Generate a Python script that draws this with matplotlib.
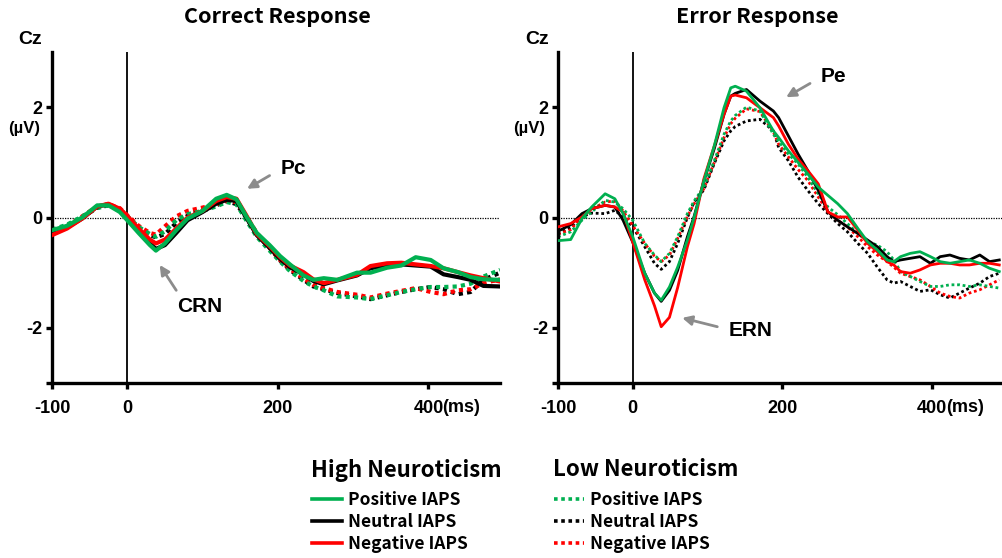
import matplotlib
matplotlib.use('Agg')
import matplotlib.pyplot as plt

# ---- data (uV) ----
t_correct = [-100, -80, -60, -40, -25, -10, 0, 15, 30, 38, 50, 65, 80, 100, 118, 132, 145, 158,
             172, 189, 203, 216, 234, 247, 261, 279, 305, 323, 345, 364, 383, 403, 420, 439,
             456, 473, 495]
c_high_pos = [-0.23, -0.15, 0.0, 0.22, 0.22, 0.1, -0.05, -0.28, -0.5, -0.6, -0.47, -0.23, -0.02,
              0.12, 0.34, 0.41, 0.33, 0.02, -0.28, -0.5, -0.7, -0.85, -1.05, -1.13, -1.1, -1.13,
              -1.0, -1.0, -0.91, -0.87, -0.72, -0.77, -0.92, -0.99, -1.08, -1.12, -1.13]
c_high_neu = [-0.27, -0.18, -0.02, 0.2, 0.24, 0.14, 0.0, -0.24, -0.47, -0.57, -0.5, -0.28, -0.05,
              0.1, 0.25, 0.32, 0.3, 0.0, -0.32, -0.55, -0.75, -0.9, -1.03, -1.15, -1.21, -1.14,
              -1.05, -0.92, -0.87, -0.85, -0.87, -0.89, -1.03, -1.08, -1.13, -1.24, -1.25]
c_high_neg = [-0.32, -0.2, -0.02, 0.2, 0.25, 0.16, 0.03, -0.2, -0.4, -0.47, -0.4, -0.2, 0.0,
              0.12, 0.3, 0.37, 0.34, 0.04, -0.3, -0.52, -0.72, -0.87, -0.99, -1.12, -1.19, -1.13,
              -1.04, -0.88, -0.83, -0.82, -0.85, -0.88, -0.92, -0.99, -1.05, -1.1, -1.16]
c_low_pos = [-0.22, -0.13, 0.02, 0.17, 0.22, 0.15, 0.02, -0.17, -0.3, -0.35, -0.25, -0.05, 0.06,
             0.12, 0.2, 0.28, 0.24, -0.05, -0.35, -0.6, -0.8, -0.97, -1.15, -1.25, -1.32, -1.43,
             -1.45, -1.48, -1.41, -1.35, -1.3, -1.26, -1.26, -1.25, -1.2, -1.07, -0.95]
c_low_neu = [-0.25, -0.15, 0.0, 0.18, 0.22, 0.15, 0.02, -0.2, -0.32, -0.36, -0.3, -0.1, 0.03,
             0.13, 0.22, 0.3, 0.24, 0.0, -0.3, -0.55, -0.78, -0.95, -1.13, -1.25, -1.3, -1.37,
             -1.43, -1.48, -1.41, -1.35, -1.3, -1.26, -1.3, -1.39, -1.35, -1.13, -1.0]
c_low_neg = [-0.28, -0.16, 0.02, 0.2, 0.24, 0.17, 0.04, -0.15, -0.28, -0.31, -0.16, 0.02, 0.12,
             0.18, 0.24, 0.3, 0.28, 0.02, -0.28, -0.55, -0.77, -0.93, -1.1, -1.22, -1.28, -1.35,
             -1.4, -1.45, -1.38, -1.33, -1.28, -1.35, -1.39, -1.32, -1.3, -1.19, -1.12]

t_error = [-100, -83, -68, -55, -37, -24, -13, 0, 16, 29, 38, 49, 60, 73, 82, 95, 109, 122, 131,
           137, 152, 170, 188, 195, 208, 221, 234, 248, 261, 274, 287, 301, 314, 327, 340, 349,
           358, 371, 384, 398, 411, 424, 437, 450, 464, 477, 490]
e_high_pos = [-0.42, -0.4, -0.02, 0.19, 0.43, 0.34, 0.07, -0.35, -1.01, -1.37, -1.5, -1.26, -0.9,
              -0.41, 0.0, 0.66, 1.3, 1.99, 2.35, 2.38, 2.29, 1.99, 1.57, 1.45, 1.21, 1.0, 0.79,
              0.55, 0.4, 0.25, 0.07, -0.2, -0.44, -0.59, -0.77, -0.8, -0.71, -0.65, -0.62, -0.71,
              -0.8, -0.83, -0.8, -0.77, -0.83, -0.92, -0.98]
e_high_neu = [-0.25, -0.13, 0.07, 0.16, 0.22, 0.19, -0.05, -0.45, -1.01, -1.37, -1.52, -1.32, -0.96,
              -0.35, 0.02, 0.66, 1.25, 1.87, 2.2, 2.25, 2.32, 2.11, 1.93, 1.81, 1.48, 1.15, 0.85,
              0.49, 0.1, -0.05, -0.17, -0.29, -0.41, -0.53, -0.71, -0.8, -0.77, -0.74, -0.71, -0.83,
              -0.71, -0.68, -0.74, -0.77, -0.68, -0.8, -0.77]
e_high_neg = [-0.17, -0.11, 0.01, 0.16, 0.22, 0.19, 0.1, -0.45, -1.13, -1.6, -1.98, -1.81, -1.27,
              -0.53, -0.11, 0.7, 1.3, 1.87, 2.2, 2.22, 2.17, 1.99, 1.81, 1.66, 1.33, 1.06, 0.85,
              0.61, 0.1, 0.01, 0.01, -0.23, -0.47, -0.62, -0.8, -0.86, -0.98, -1.01, -0.95, -0.86,
              -0.83, -0.83, -0.86, -0.86, -0.83, -0.83, -0.86]
e_low_pos = [-0.35, -0.26, -0.05, 0.1, 0.31, 0.28, 0.16, -0.05, -0.47, -0.68, -0.8, -0.65, -0.35,
             0.07, 0.3, 0.55, 1.03, 1.51, 1.75, 1.85, 2.0, 1.93, 1.51, 1.38, 1.15, 0.97, 0.73,
             0.43, 0.19, 0.05, -0.11, -0.29, -0.44, -0.5, -0.62, -0.77, -0.98, -1.07, -1.16, -1.25,
             -1.25, -1.22, -1.22, -1.25, -1.22, -1.25, -1.28]
e_low_neu = [-0.3, -0.18, 0.02, 0.08, 0.07, 0.13, 0.01, -0.17, -0.53, -0.83, -0.94, -0.8, -0.47,
             0.0, 0.28, 0.5, 0.98, 1.39, 1.57, 1.65, 1.75, 1.78, 1.57, 1.27, 1.03, 0.73, 0.49,
             0.25, 0.07, -0.11, -0.26, -0.47, -0.65, -0.9, -1.13, -1.19, -1.16, -1.25, -1.34, -1.31,
             -1.4, -1.46, -1.37, -1.28, -1.19, -1.07, -1.01]
e_low_neg = [-0.3, -0.22, 0.02, 0.15, 0.28, 0.3, 0.12, -0.15, -0.47, -0.7, -0.8, -0.68, -0.38,
             0.02, 0.25, 0.52, 1.0, 1.45, 1.7, 1.8, 1.97, 1.92, 1.55, 1.33, 1.1, 0.87, 0.67,
             0.37, 0.1, -0.05, -0.17, -0.35, -0.53, -0.68, -0.8, -0.9, -1.01, -1.07, -1.13, -1.25,
             -1.37, -1.43, -1.46, -1.37, -1.31, -1.22, -1.13]

x_ticks = [-100, 0, 200, 400]
x_ticklabels = ['-100', '0', '200', '400']
y_ticks = [-3, -2, 0, 2]
y_ticklabels = ['', '-2', '0', '2']
conditions = ['Positive IAPS', 'Neutral IAPS', 'Negative IAPS']
colors = ['#00B050', '#000000', '#FF0000']

plt.rcParams['font.family'] = ['Liberation Sans', 'DejaVu Sans']
kr = ['Noto Sans CJK KR', 'DejaVu Sans']

fig = plt.figure(figsize=(10.03, 5.58), dpi=100)
ax1 = fig.add_axes([52 / 1003, 1 - 383 / 558, 448 / 1003, 331 / 558])
ax2 = fig.add_axes([558 / 1003, 1 - 383 / 558, 445 / 1003, 331 / 558])

panels = [
    (ax1, t_correct, [c_high_pos, c_high_neu, c_high_neg], [c_low_pos, c_low_neu, c_low_neg], 3.0),
    (ax2, t_error, [e_high_pos, e_high_neu, e_high_neg], [e_low_pos, e_low_neu, e_low_neg], 2.0),
]

draw_order = [1, 2, 0]  # neutral, negative, then positive on top
handles_high = []
handles_low = []
for ax, t, high, low, lw in panels:
    ax.axhline(0, color='black', lw=0.9, ls=(0, (1, 1)), zorder=1)
    ax.axvline(0, color='black', lw=1.3, zorder=1)
    hl = [None] * 3
    ll = [None] * 3
    for i in draw_order:
        l, = ax.plot(t, low[i], color=colors[i], lw=lw, ls=(0, (1, 1)), zorder=2)
        ll[i] = l
    for i in draw_order:
        l, = ax.plot(t, high[i], color=colors[i], lw=lw, zorder=3)
        hl[i] = l
    handles_high = hl
    handles_low = ll
    ax.set_xlim(-100, 495)
    ax.set_ylim(-3, 3)
    ax.spines['top'].set_visible(False)
    ax.spines['right'].set_visible(False)
    ax.spines['left'].set_linewidth(2.4)
    ax.spines['bottom'].set_linewidth(2.4)
    ax.set_xticks(x_ticks)
    ax.set_xticklabels(x_ticklabels, fontsize=13, fontweight='bold')
    ax.set_yticks(y_ticks)
    ax.set_yticklabels(y_ticklabels, fontsize=13, fontweight='bold')
    ax.tick_params(axis='both', length=4, width=2.4)
    ax.tick_params(axis='x', pad=8)
    ax.tick_params(axis='y', pad=3)
    ax.annotate('(ms)', xy=(400, 0), xycoords=('data', 'axes fraction'), xytext=(10, -11.5),
                textcoords='offset points', ha='left', va='top', fontsize=13, fontweight='bold')

# titles and unit labels
ax1.text(0.504, 1.106, 'Correct Response', transform=ax1.transAxes, ha='center', va='center',
         fontsize=15.5, fontweight='bold', family=kr)
ax2.text(0.447, 1.106, 'Error Response', transform=ax2.transAxes, ha='center', va='center',
         fontsize=15.5, fontweight='bold', family=kr)
for x0 in [18, 525]:
    fig.text(x0 / 1003, 1 - 39 / 558, 'Cz', ha='left', va='center', fontsize=14, fontweight='bold')
for x0 in [8, 513]:
    fig.text(x0 / 1003, 1 - 129 / 558, '(µV)', ha='left', va='center', fontsize=12, fontweight='bold')

# component labels with arrows
arrow = dict(arrowstyle='-|>', color='#8C8C8C', lw=2, mutation_scale=14, shrinkA=0, shrinkB=0)
ax1.annotate('', xy=(159, 0.52), xytext=(189, 0.76), arrowprops=arrow)
ax1.text(220, 0.88, 'Pc', ha='center', va='center', fontsize=15, fontweight='bold')
ax1.annotate('', xy=(43, -0.86), xytext=(65, -1.32), arrowprops=arrow)
ax1.text(96, -1.62, 'CRN', ha='center', va='center', fontsize=15, fontweight='bold')
ax2.annotate('', xy=(205, 2.18), xytext=(237, 2.43), arrowprops=arrow)
ax2.text(268, 2.56, 'Pe', ha='center', va='center', fontsize=15, fontweight='bold')
ax2.annotate('', xy=(66, -1.82), xytext=(113, -1.98), arrowprops=arrow)
ax2.text(158, -2.04, 'ERN', ha='center', va='center', fontsize=15, fontweight='bold')

# legends
fig.text(311 / 1003, 1 - 470 / 558, 'High Neuroticism', ha='left', va='center',
         fontsize=16, fontweight='bold', family=kr)
fig.text(553 / 1003, 1 - 470 / 558, 'Low Neuroticism', ha='left', va='center',
         fontsize=16, fontweight='bold', family=kr)
leg_kw = dict(frameon=False, loc='upper left', handlelength=1.7, handletextpad=0.4,
              labelspacing=0.22, borderpad=0, borderaxespad=0,
              prop={'family': kr, 'weight': 'bold', 'size': 12.5})
leg1 = fig.legend(handles_high, conditions, bbox_to_anchor=(312 / 1003, 1 - 491 / 558), **leg_kw)
leg2 = fig.legend(handles_low, conditions, bbox_to_anchor=(554 / 1003, 1 - 491 / 558), **leg_kw)
for leg in (leg1, leg2):
    for h in leg.legend_handles:
        h.set_linewidth(2.6)

fig.savefig('out.png', dpi=100)
